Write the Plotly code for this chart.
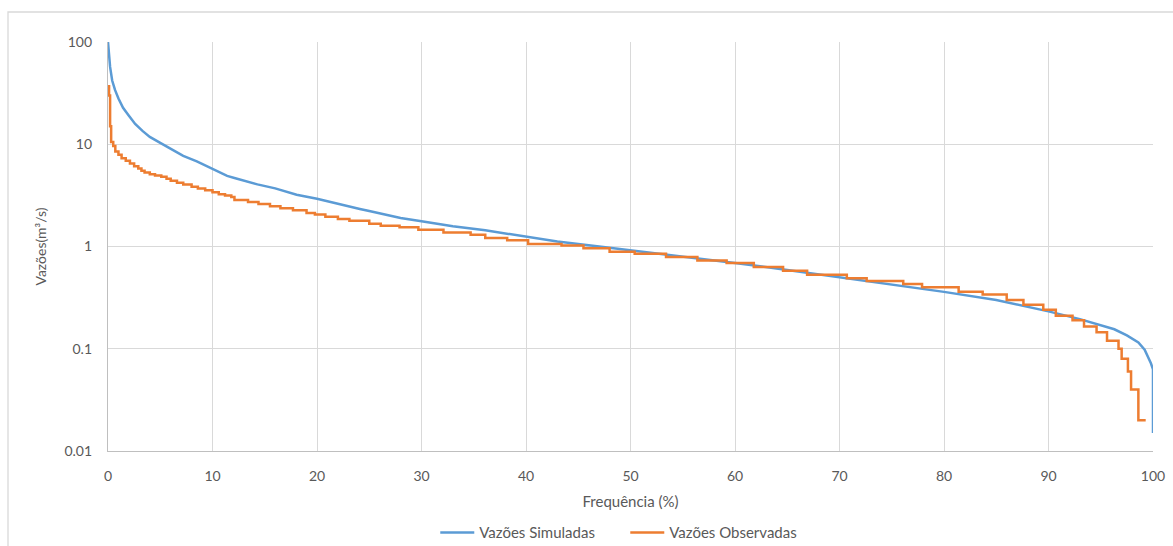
import plotly.graph_objects as go

# Curva de permanência: vazões simuladas (contínua) e observadas (em degraus)
sim_freq = [0, 0.1, 0.2, 0.4, 0.67, 1.0, 1.44, 2.0, 2.6, 3.3, 4.0, 5.0, 5.65,
            6.5, 7.2, 8.5, 10, 11.4, 12.1, 14.3, 16, 18.05, 20, 22, 24.1, 25, 28,
            30, 33, 36.1, 40, 43, 47, 50, 55, 60, 65, 70, 75, 80, 85, 90, 93, 95,
            96.3, 97.5, 98.6, 99.2, 99.5, 99.8, 100, 100]
sim_flow = [100, 70, 57, 42, 34, 28, 22.7, 19, 15.8, 13.5, 11.8, 10.3, 9.5,
            8.5, 7.7, 6.8, 5.7, 4.9, 4.68, 4.05, 3.7, 3.21, 2.93, 2.6, 2.33, 2.22, 1.9,
            1.77, 1.58, 1.44, 1.25, 1.12, 1.0, 0.92, 0.8, 0.69, 0.59, 0.50, 0.43, 0.36,
            0.30, 0.232, 0.195, 0.17, 0.155, 0.135, 0.115, 0.098, 0.085, 0.072, 0.063, 0.015]

obs_freq = [0, 0.1, 0.2, 0.3, 0.5, 0.7, 1.0, 1.3, 1.7, 2.1, 2.5, 2.9, 3.2, 3.5, 4.0,
            4.5, 5.1, 5.6, 6.0, 6.6, 7.2, 8.0, 8.6, 9.3, 10.0, 10.6, 11.2, 11.8, 12.1,
            13.4, 14.4, 15.5, 16.5, 17.7, 19.0, 19.8, 20.8, 22.0, 23.1, 25.0, 26.1,
            27.9, 29.7, 32.1, 34.7, 36.1, 38.2, 40.2, 43.4, 45.5, 48.0, 50.4, 53.4,
            56.4, 59.2, 61.8, 64.6, 66.9, 70.7, 72.6, 76.1, 77.9, 81.4, 83.7, 86.0,
            87.6, 89.5, 90.7, 92.3, 93.4, 94.6, 95.6, 96.7, 97.0, 97.6, 97.9, 98.6, 99.3]
obs_flow = [37, 30, 15, 10.5, 9.6, 8.5, 7.9, 7.3, 6.9, 6.5, 6.1, 5.8, 5.5, 5.3, 5.1,
            4.95, 4.8, 4.6, 4.4, 4.2, 4.05, 3.85, 3.7, 3.55, 3.4, 3.25, 3.15, 3.05, 2.85,
            2.72, 2.6, 2.47, 2.37, 2.26, 2.13, 2.05, 1.95, 1.86, 1.79, 1.67, 1.6,
            1.54, 1.46, 1.37, 1.30, 1.21, 1.15, 1.06, 1.025, 0.96, 0.89, 0.85, 0.79,
            0.73, 0.69, 0.63, 0.58, 0.53, 0.49, 0.46, 0.43, 0.40, 0.36, 0.34, 0.30,
            0.27, 0.24, 0.21, 0.19, 0.165, 0.145, 0.12, 0.10, 0.08, 0.06, 0.04, 0.02, 0.02]

y_ticks = [0.01, 0.1, 1, 10, 100]
y_tick_text = ["0.01", "0.1", "1", "10", "100"]

FONT = "Lato"
TXT = "#595959"
GRID = "#d9d9d9"

fig = go.Figure()
fig.add_trace(go.Scatter(x=sim_freq, y=sim_flow, mode="lines", name="Vazões Simuladas",
                         line=dict(color="#5B9BD5", width=2.5)))
fig.add_trace(go.Scatter(x=obs_freq, y=obs_flow, mode="lines", name="Vazões Observadas",
                         line=dict(color="#ED7D31", width=2.5, shape="hv")))

fig.update_layout(
    width=1173, height=546,
    margin=dict(l=108, r=20, t=42, b=95, autoexpand=False),
    paper_bgcolor="white", plot_bgcolor="white",
    font=dict(family=FONT, size=14, color=TXT),
    showlegend=True,
    legend=dict(orientation="h", x=0.495, xanchor="center", y=-0.2, yanchor="middle",
                font=dict(size=15, color=TXT), itemwidth=34,
                entrywidth=141, entrywidthmode="pixels"),
    xaxis=dict(range=[0, 100], dtick=10, tick0=0, showgrid=True, gridcolor=GRID,
               gridwidth=1.3, showline=True, linecolor="#bfbfbf", linewidth=1.3,
               zeroline=False, ticks="", ticklabelstandoff=12,
               title=dict(text="Frequência (%)", font=dict(size=15, color=TXT), standoff=13),
               automargin=False),
    yaxis=dict(type="log", range=[-2, 2], tickvals=y_ticks, ticktext=y_tick_text,
               showgrid=True, gridcolor=GRID, gridwidth=1.3, showline=True,
               linecolor="#bfbfbf", linewidth=1.3, zeroline=False, ticks="",
               ticklabelstandoff=12,
               title=dict(text="Vazões(m³/s)", font=dict(size=14, color=TXT), standoff=14),
               automargin=False),
    shapes=[dict(type="rect", xref="paper", yref="paper",
                 x0=(8 - 108) / 1045, x1=(1190 - 108) / 1045,
                 y0=(451 - 570) / 409, y1=(451 - 12) / 409,
                 line=dict(color=GRID, width=1.3), fillcolor="rgba(0,0,0,0)", layer="below")],
)

fig.write_html("out.html")
